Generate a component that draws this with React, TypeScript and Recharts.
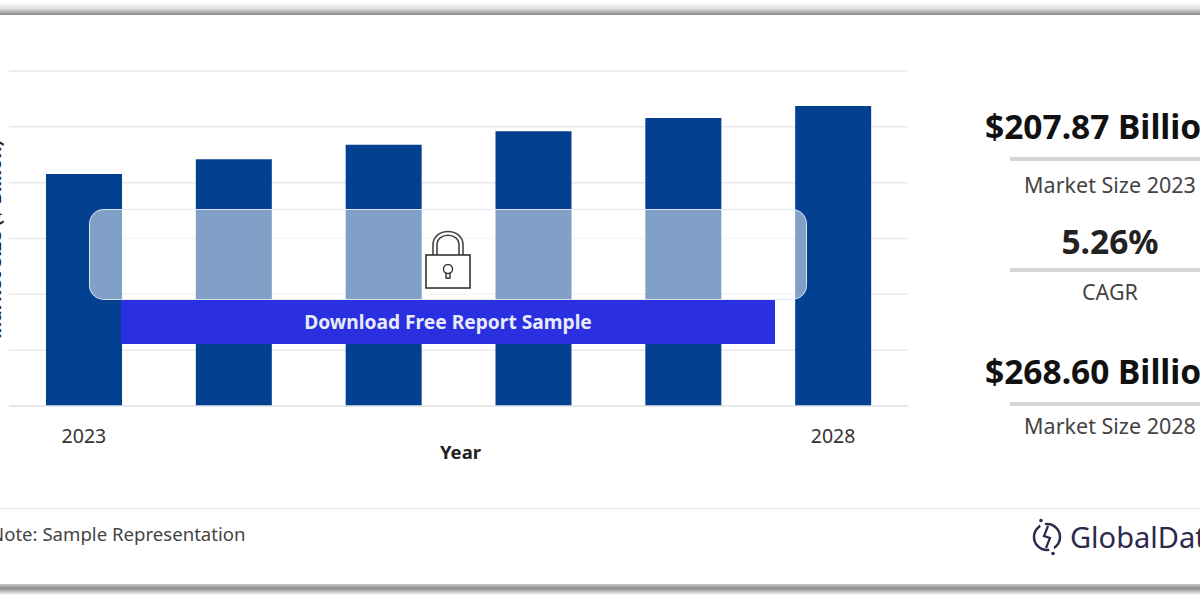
import React from "react";
import { BarChart, Bar, XAxis, YAxis, CartesianGrid } from "recharts";

const years = ["2023", "2024", "2025", "2026", "2027", "2028"];
const marketSize = [207.87, 221, 234, 246, 258, 268.6];
const shownTicks = ["2023", "2028"];
const yTicks = [0, 50, 100, 150, 200, 250, 300];
const rows = years.map((year, i) => ({ year, value: marketSize[i] }));

const FONT = '"Noto Sans", "Open Sans", sans-serif';

const abs = (s: React.CSSProperties): React.CSSProperties => ({ position: "absolute", ...s });

function Centered({ y, h, size, weight, color, children }: any) {
  return (
    <div style={abs({ left: 1010, width: 200, top: y, height: h, lineHeight: h + "px", textAlign: "center", fontSize: size, fontWeight: weight, color, whiteSpace: "nowrap" })}>
      {children}
    </div>
  );
}

function Headline({ y, children }: any) {
  return (
    <div style={abs({ left: 985, top: y, height: 40, lineHeight: "40px", fontSize: 33.5, fontWeight: 700, color: "#111", whiteSpace: "nowrap" })}>
      {children}
    </div>
  );
}

export default function App() {
  return (
    <div style={abs({ left: 0, top: 0, width: 1200, height: 600, overflow: "hidden", background: "#fff", fontFamily: FONT })}>
      <div style={abs({ left: 0, right: 0, top: 2, height: 13, background: "linear-gradient(to bottom, #ffffff, #e0e0e0 50%, #9a9a9a 88%, #8c8c8c)" })} />
      <div style={abs({ left: 0, right: 0, top: 584, height: 11, background: "linear-gradient(to bottom, #c8c8c8, #8c8c8c 40%, #b0b0b0 60%, #ffffff)" })} />
      <div style={abs({ left: 0, top: 0 })}>
        <BarChart width={920} height={470} data={rows} margin={{ top: 71, right: 12, bottom: 0, left: 0 }} barCategoryGap={0}>
          <CartesianGrid vertical={false} stroke="#e8e8e8" strokeWidth={1.5} />
          <XAxis
            dataKey="year"
            ticks={shownTicks}
            interval={0}
            tickLine={false}
            axisLine={{ stroke: "#e6e6e6", strokeWidth: 1.5 }}
            tick={{ fill: "#333", fontSize: 19.5, fontFamily: FONT }}
            tickMargin={17}
            height={64}
            label={{ value: "Year", position: "insideBottom", offset: 11, fill: "#222", fontSize: 18.5, fontWeight: 700, dx: 2 }}
          />
          <YAxis
            domain={[0, 300]}
            ticks={yTicks}
            tick={{ fontSize: 1, fill: "transparent" }}
            tickFormatter={() => ""}
            tickLine={false}
            axisLine={false}
            width={9}
            label={{ value: "Market Size ($ Billion)", angle: -90, position: "insideLeft", dx: -10.5, dy: 1, fill: "#222", fontSize: 18.5, fontWeight: 700, style: { textAnchor: "middle" } }}
          />
          <Bar dataKey="value" fill="#03408f" barSize={76} isAnimationActive={false} />
        </BarChart>
      </div>

      <div style={abs({ left: 89, top: 209, width: 718, height: 91, boxSizing: "border-box", borderRadius: 15, background: "rgba(255,255,255,0.5)", border: "1.5px solid rgba(225,232,242,0.9)" })} />
      <div style={abs({ left: 121, top: 300, width: 654, height: 44, background: "#2a2fdf", color: "#e8ecfa", fontWeight: 700, fontSize: 19.2, lineHeight: "44px", textAlign: "center", whiteSpace: "nowrap" })}>
        Download Free Report Sample
      </div>
      <svg style={abs({ left: 420, top: 228 })} width={56} height={66} viewBox="0 0 56 66">
        <path d="M13 27 V17 C13 -1 43 -1 43 17 V27" fill="none" stroke="#444" strokeWidth={1.6} />
        <path d="M17 27 V17 C17 4 39 4 39 17 V27" fill="none" stroke="#444" strokeWidth={1.6} />
        <rect x={6} y={27} width={44} height={33} fill="#fff" stroke="#333" strokeWidth={1.6} />
        <circle cx={28} cy={41} r={4.5} fill="none" stroke="#333" strokeWidth={1.4} />
        <path d="M26 45 V50 H30 V45" fill="none" stroke="#333" strokeWidth={1.4} />
      </svg>

      <Headline y={106}>$207.87 Billion</Headline>
      <div style={abs({ left: 1010, right: 0, top: 157, height: 4, background: "#d4d4d4" })} />
      <Centered y={172} h={26} size={21.5} weight={400} color="#444">Market Size 2023</Centered>
      <Centered y={221} h={40} size={33.5} weight={700} color="#222">5.26%</Centered>
      <div style={abs({ left: 1010, right: 0, top: 268, height: 4, background: "#d4d4d4" })} />
      <Centered y={279} h={26} size={21.5} weight={400} color="#444">CAGR</Centered>
      <Headline y={351}>$268.60 Billion</Headline>
      <div style={abs({ left: 1010, right: 0, top: 402, height: 4, background: "#d4d4d4" })} />
      <Centered y={413} h={26} size={21.5} weight={400} color="#444">Market Size 2028</Centered>

      <div style={abs({ left: 0, right: 0, top: 508, height: 1, background: "#e4e4e4" })} />
      <div style={abs({ left: -10, top: 521, height: 26, lineHeight: "26px", fontSize: 18.6, color: "#444", whiteSpace: "nowrap" })}>Note: Sample Representation</div>

      <svg style={abs({ left: 1030, top: 517 })} width={34} height={40} viewBox="0 0 34 40">
        <circle cx={17} cy={20} r={13} fill="none" stroke="#2d2a4e" strokeWidth={2.5} />
        <path d="M11 3 L16 18 L19 22 L23 37" fill="none" stroke="#fff" strokeWidth={5} />
        <path d="M18 9 L14 19 L20 21 L16 31" fill="none" stroke="#2d2a4e" strokeWidth={2.2} />
        <circle cx={11} cy={3.5} r={1.8} fill="#2d2a4e" />
        <circle cx={23} cy={36.5} r={1.8} fill="#2d2a4e" />
      </svg>
      <div style={abs({ left: 1070, top: 519, height: 36, lineHeight: "36px", fontSize: 29, color: "#2d2a4e", whiteSpace: "nowrap" })}>GlobalData</div>
    </div>
  );
}
